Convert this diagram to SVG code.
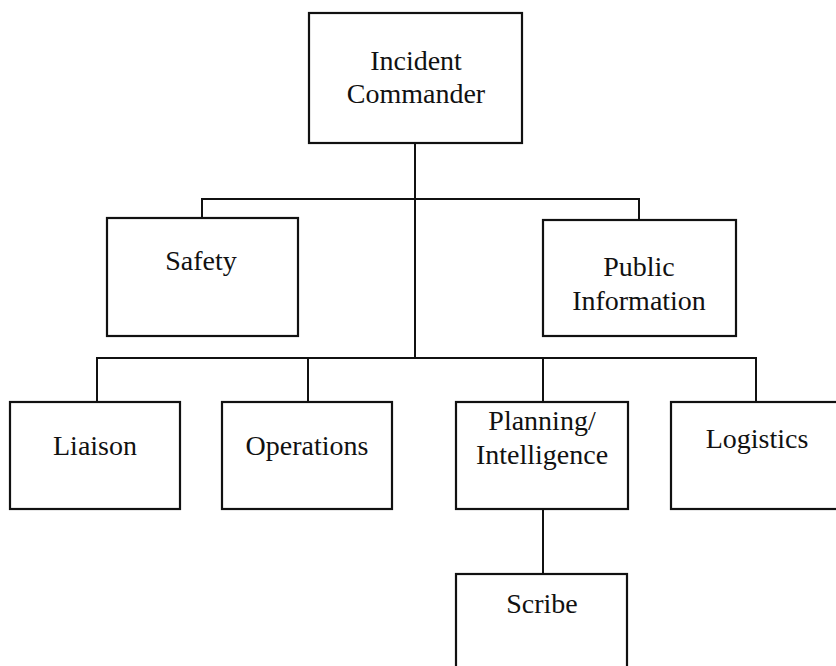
<svg xmlns="http://www.w3.org/2000/svg" width="836" height="666" viewBox="0 0 836 666">
<style>
.box{fill:#fff;stroke:#111;stroke-width:2.2}
.lbl{font-family:"Liberation Serif","Times New Roman",serif;font-size:28px;fill:#111;text-anchor:middle}
.conn{fill:none;stroke:#111;stroke-width:2}
</style>
<rect width="836" height="666" fill="#fff"/>
<g id="connectors">
<path class="conn" d="M415,143 V358"/>
<path class="conn" d="M202,218 V199 H639 V220"/>
<path class="conn" d="M97,402 V358 H756 V402"/>
<path class="conn" d="M308,358 V402"/>
<path class="conn" d="M543,358 V402"/>
<path class="conn" d="M543,509 V574"/>
</g>
<g id="incident-commander">
<rect class="box" x="309" y="13" width="213" height="130"/>
<text class="lbl" x="416" y="70">Incident</text>
<text class="lbl" x="416" y="103">Commander</text>
</g>
<g id="safety">
<rect class="box" x="107" y="218" width="191" height="118"/>
<text class="lbl" x="201" y="270">Safety</text>
</g>
<g id="public-information">
<rect class="box" x="543" y="220" width="193" height="116"/>
<text class="lbl" x="639" y="276">Public</text>
<text class="lbl" x="639" y="310">Information</text>
</g>
<g id="liaison">
<rect class="box" x="10" y="402" width="170" height="107"/>
<text class="lbl" x="95" y="455">Liaison</text>
</g>
<g id="operations">
<rect class="box" x="222" y="402" width="170" height="107"/>
<text class="lbl" x="307" y="455">Operations</text>
</g>
<g id="planning-intelligence">
<rect class="box" x="456" y="402" width="172" height="107"/>
<text class="lbl" x="542" y="430">Planning/</text>
<text class="lbl" x="542" y="464">Intelligence</text>
</g>
<g id="logistics">
<rect class="box" x="671" y="402" width="180" height="107"/>
<text class="lbl" x="757" y="448">Logistics</text>
</g>
<g id="scribe">
<rect class="box" x="456" y="574" width="171" height="110"/>
<text class="lbl" x="542" y="613">Scribe</text>
</g>
</svg>
